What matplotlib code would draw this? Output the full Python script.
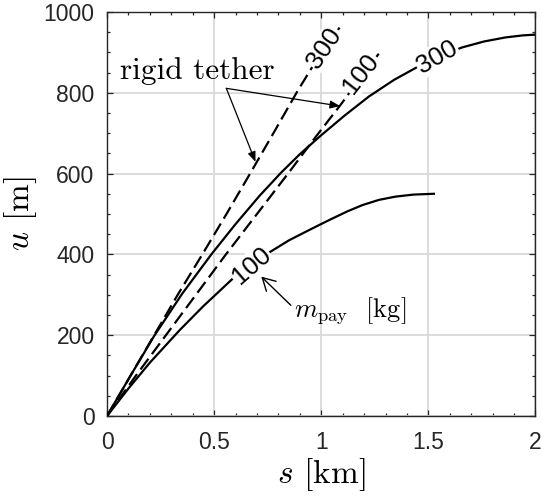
import matplotlib
matplotlib.use('Agg')
import matplotlib.pyplot as plt
from matplotlib.ticker import MultipleLocator

plt.rcParams['mathtext.fontset'] = 'cm'
plt.rcParams['font.family'] = 'Liberation Sans'

# elastic tether, m_pay = 300 kg
s_300 = [0, 0.11, 0.22, 0.35, 0.487, 0.60, 0.712, 0.812, 0.90, 1.0, 1.11,
         1.223, 1.34, 1.456, 1.54, 1.656, 1.76, 1.86, 1.94, 2.0]
u_300 = [0, 100, 198, 302, 400, 475, 545, 602, 648, 695, 744,
         791, 832, 866, 888, 912, 927, 937, 942, 944]
# elastic tether, m_pay = 100 kg
s_100 = [0, 0.1, 0.2, 0.34, 0.45, 0.587, 0.673, 0.758, 0.85, 0.95, 1.037, 1.12,
         1.192, 1.27, 1.347, 1.43, 1.526]
u_100 = [0, 68, 132, 213, 272, 340, 375, 405, 435, 462, 485, 506,
         522, 535, 543, 548, 550]
# rigid tether
s_r300 = [0, 0.11, 0.22, 0.33, 0.445, 0.56, 0.67, 0.78, 0.89, 1.0, 1.095]
u_r300 = [0, 100, 200, 300, 400, 502, 602, 703, 805, 900, 968]
s_r100 = [0, 0.135, 0.275, 0.415, 0.555, 0.70, 0.845, 0.97, 1.09, 1.19, 1.285]
u_r100 = [0, 100, 200, 300, 400, 500, 600, 688, 770, 842, 908]

fig = plt.figure(figsize=(5.41, 4.97), dpi=100)
ax = fig.add_axes([0.1978, 0.163, 0.7920, 0.8129])

ax.plot(s_300, u_300, '-', color='k', lw=1.6, zorder=3)
ax.plot(s_100, u_100, '-', color='k', lw=1.6, zorder=3)
ax.plot(s_r300, u_r300, '--', color='k', lw=1.6, dashes=(6, 2.6), zorder=3)
ax.plot(s_r100, u_r100, '--', color='k', lw=1.6, dashes=(6, 2.6), zorder=3)

# inline labels
lab = dict(fontsize=18.5, ha='center', va='center', rotation_mode='anchor', zorder=4,
           bbox=dict(facecolor='white', edgecolor='none', pad=0.8))
ax.text(1.014, 911, '300', rotation=56, **lab)
ax.text(1.185, 848, '100', rotation=52, **lab)
ax.text(1.54, 889, '300', rotation=30, **lab)
ax.text(0.673, 372, '100', rotation=41, **lab)

# annotations
ax.text(0.06, 833, 'rigid tether', fontsize=22.5, family='cmr10', ha='left', va='baseline', zorder=5)
for tip in [(0.693, 629), (1.088, 767)]:
    ax.annotate('', xy=tip, xytext=(0.557, 811),
                arrowprops=dict(arrowstyle='-|>,head_length=0.3,head_width=0.12',
                                mutation_scale=20, color='k', lw=0.9,
                                shrinkA=0, shrinkB=0), zorder=5)
ax.text(0.875, 246, r'$m_{\rm pay}$  [kg]', fontsize=19, family='cmr10',
        ha='left', va='baseline', zorder=5)
ax.annotate('', xy=(0.72, 345), xytext=(0.858, 274),
            arrowprops=dict(arrowstyle='->,head_length=0.45,head_width=0.25',
                            mutation_scale=20, color='k', lw=1.0,
                            shrinkA=0, shrinkB=0), zorder=5)

ax.set_xlim(0, 2)
ax.set_ylim(0, 1000)
ax.set_xticks([0, 0.5, 1, 1.5, 2])
ax.set_xticklabels(['0', '0.5', '1', '1.5', '2'])
ax.set_yticks([0, 200, 400, 600, 800, 1000])
ax.xaxis.set_minor_locator(MultipleLocator(0.1))
ax.yaxis.set_minor_locator(MultipleLocator(50))
ax.grid(True, which='major', color='#d9d9d9', lw=1.3, zorder=0)
ax.set_axisbelow(True)
ax.tick_params(which='both', direction='in', top=True, right=True,
               color='#262626', width=0.9, labelsize=16.5, labelcolor='#262626')
ax.tick_params(which='major', length=4.5)
ax.tick_params(which='minor', length=2.5)
ax.tick_params(axis='x', pad=11)
ax.tick_params(axis='y', pad=9)
for sp in ax.spines.values():
    sp.set_color('#262626')
    sp.set_linewidth(1.0)

ax.set_xlabel('$s$ [km]', fontsize=24, family='cmr10', labelpad=1)
ax.set_ylabel('$u$ [m]', fontsize=24, family='cmr10', labelpad=3)

plt.savefig('out.png', dpi=100)
